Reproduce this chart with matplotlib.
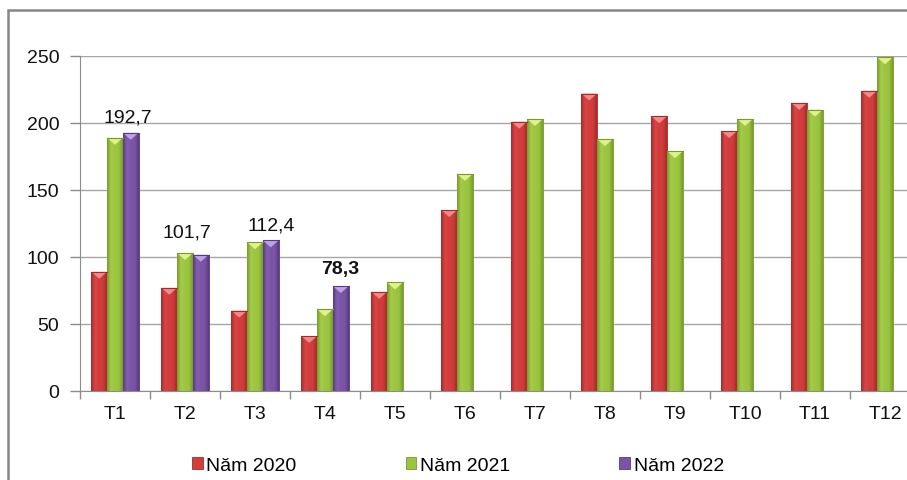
import numpy as np
import matplotlib
matplotlib.use("Agg")
import matplotlib.pyplot as plt
from matplotlib.colors import LinearSegmentedColormap
from matplotlib.patches import Polygon, Rectangle, Patch

plt.rcParams["font.family"] = ["Liberation Sans", "DejaVu Sans"]

months = ["T1", "T2", "T3", "T4", "T5", "T6", "T7", "T8", "T9", "T10", "T11", "T12"]
y2020 = [89, 77, 60, 41, 74, 135, 201, 222, 205, 194, 215, 224]
y2021 = [189, 103, 111, 61, 81, 162, 203, 188, 179, 203, 210, 249]
y2022 = [192.7, 101.7, 112.4, 78.3]
series_names = ["Năm 2020", "Năm 2021", "Năm 2022"]

# (dark edge, body, light body, bevel)
RED = ("#a62a2a", "#d13c3c", "#d94545", "#f08a88")
GREEN = ("#789a2c", "#9bc440", "#a6cd4a", "#def28a")
PURPLE = ("#573a80", "#7a55a6", "#8460b0", "#bea2e4")
GRID = "#a6a6a6"
AXIS = "#8c8c8c"
FS = 14

fig = plt.figure(figsize=(9.07, 4.81), dpi=100)
ax = fig.add_axes([80 / 907, 89 / 481, 840 / 907, 335 / 481])

x = np.arange(len(months))
w = 0.225
px_per_unit = 335 / 250
bevel = 7 / px_per_unit


def shaded_bars(xs, vals, col):
    cmap = LinearSegmentedColormap.from_list(
        "s", [col[0], col[2], col[1], col[1], col[0]])
    grad = np.linspace(0, 1, 64).reshape(1, -1)
    bars = ax.bar(xs, vals, width=w, color=col[1], edgecolor=col[0],
                  linewidth=0.6, zorder=3)
    for b in bars:
        x0, x1 = b.get_x(), b.get_x() + b.get_width()
        h = b.get_height()
        img = ax.imshow(grad, cmap=cmap, extent=(x0, x1, 0, h),
                        aspect="auto", zorder=3.1, interpolation="bicubic")
        img.set_clip_path(b)
        tri = Polygon([(x0, h), (x1, h), ((x0 + x1) / 2, h - bevel)],
                      closed=True, facecolor=col[3], edgecolor="none",
                      zorder=3.2)
        ax.add_patch(tri)
        ax.plot([x0, x1], [h, h], color=col[0], lw=0.8, zorder=3.3)
    return bars


shaded_bars(x - w, y2020, RED)
shaded_bars(x, y2021, GREEN)
b22 = shaded_bars(x[:len(y2022)] + w, y2022, PURPLE)

# value labels on the 2022 bars
nudge_px = [(-3, 7), (-14, 14), (0, 7), (-1, 9)]
for b, v, (dx, dy) in zip(b22, y2022, nudge_px):
    txt = f"{v:.1f}".replace(".", ",")
    ax.annotate(txt, (b.get_x() + b.get_width() / 2, v),
                xytext=(dx, dy), textcoords="offset pixels",
                ha="center", va="bottom", fontsize=FS, color="#111111",
                fontweight="bold" if v == y2022[-1] else "normal", zorder=5)

ax.set_xlim(-0.5, len(months) - 0.5)
ax.set_ylim(0, 250)
ax.set_yticks(range(0, 251, 50))
ax.yaxis.grid(True, color=GRID, lw=1)
ax.set_axisbelow(True)

ax.set_xticks(np.arange(-0.5, len(months), 1))
ax.set_xticklabels([])
ax.set_xticks(x, minor=True)
ax.set_xticklabels(months, minor=True)
ax.tick_params(axis="x", which="major", length=6, color=AXIS, width=1)
ax.tick_params(axis="x", which="minor", length=0, pad=10, labelsize=FS,
               labelcolor="#111111")
ax.tick_params(axis="y", length=7, color=AXIS, width=1, pad=8,
               labelsize=FS, labelcolor="#111111")

for sp in ("top", "right"):
    ax.spines[sp].set_visible(False)
ax.spines["left"].set_color(AXIS)
ax.spines["bottom"].set_color(AXIS)

handles = [Patch(facecolor=c[1], edgecolor=c[0], lw=0.6) for c in (RED, GREEN, PURPLE)]
fig.legend(handles, series_names, loc="center", bbox_to_anchor=(0.505, 0.031),
           ncol=3, frameon=False, fontsize=FS, handlelength=0.55,
           handleheight=0.55, handletextpad=0.2, columnspacing=5.6)

# outer chart border (only top and left edges fall inside the image)
fig.add_artist(Rectangle((8 / 907, -0.2), 2, 1.2 - 11 / 481,
                         transform=fig.transFigure, fill=False,
                         edgecolor="#868686", lw=1.8))

fig.savefig("out.png", dpi=100)
